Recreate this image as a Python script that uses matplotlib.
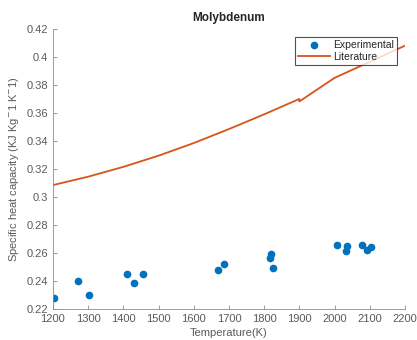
import matplotlib
matplotlib.use("Agg")
import matplotlib.pyplot as plt

plt.rcParams['font.family'] = ['Liberation Sans', 'DejaVu Sans']

exp_T = [1202, 1271, 1303, 1410, 1431, 1457, 1668, 1687, 1816, 1820, 1825,
         2006, 2033, 2036, 2079, 2093, 2103]
exp_cp = [0.2278, 0.2397, 0.2300, 0.2449, 0.2385, 0.2449, 0.2480, 0.2520,
          0.2563, 0.2591, 0.2496, 0.2658, 0.2615, 0.2648, 0.2655, 0.2622, 0.2646]

lit_T = [1200, 1300, 1400, 1500, 1600, 1700, 1800, 1900, 1900, 2000, 2100, 2200]
lit_cp = [0.3085, 0.3145, 0.3215, 0.3295, 0.3385, 0.3485, 0.3590, 0.3700,
          0.3682, 0.3850, 0.3965, 0.4080]

xticks = [1200, 1300, 1400, 1500, 1600, 1700, 1800, 1900, 2000, 2100, 2200]
yticks = [0.22, 0.24, 0.26, 0.28, 0.30, 0.32, 0.34, 0.36, 0.38, 0.40, 0.42]
ytick_labels = ['0.22', '0.24', '0.26', '0.28', '0.3', '0.32', '0.34', '0.36', '0.38', '0.4', '0.42']

fig = plt.figure(figsize=(4.17, 3.40), dpi=100)
ax = fig.add_axes([0.127, 0.091, 0.844, 0.824])

axcol = '#262626'
txtcol = '#5a5a5a'
ax.plot(exp_T, exp_cp, 'o', color='#0072BD', markersize=4.5, label='Experimental')
ax.plot(lit_T, lit_cp, '-', color='#D95319', linewidth=1.3, label='Literature')

ax.set_xlim(1200, 2200)
ax.set_ylim(0.22, 0.42)
ax.set_xticks(xticks)
ax.set_yticks(yticks)
ax.set_yticklabels(ytick_labels)
for s in ['top', 'right']:
    ax.spines[s].set_visible(False)
for s in ['left', 'bottom']:
    ax.spines[s].set_color('#8c8c8c')
    ax.spines[s].set_linewidth(0.6)
ax.tick_params(direction='in', length=3, width=0.6, color='#8c8c8c',
               labelsize=8, labelcolor=txtcol)

ax.set_title('Molybdenum', fontsize=8.5, fontweight='bold', color=axcol, pad=6)
ax.set_xlabel('Temperature(K)', fontsize=8, color=txtcol, labelpad=3)
ax.set_ylabel('Specific heat capacity (KJ Kg$^{-}$1 K$^{-}$1)', fontsize=8,
              color=txtcol, labelpad=4)

leg = ax.legend(loc='upper right', bbox_to_anchor=(0.977, 0.971), fontsize=7.5,
                frameon=True, fancybox=False, edgecolor='#262626',
                borderpad=0.3, labelspacing=0.15, handlelength=3.0,
                handletextpad=0.3, borderaxespad=0.0)
leg.get_frame().set_linewidth(0.8)
for t in leg.get_texts():
    t.set_color(axcol)

fig.savefig('out.png', dpi=100)
